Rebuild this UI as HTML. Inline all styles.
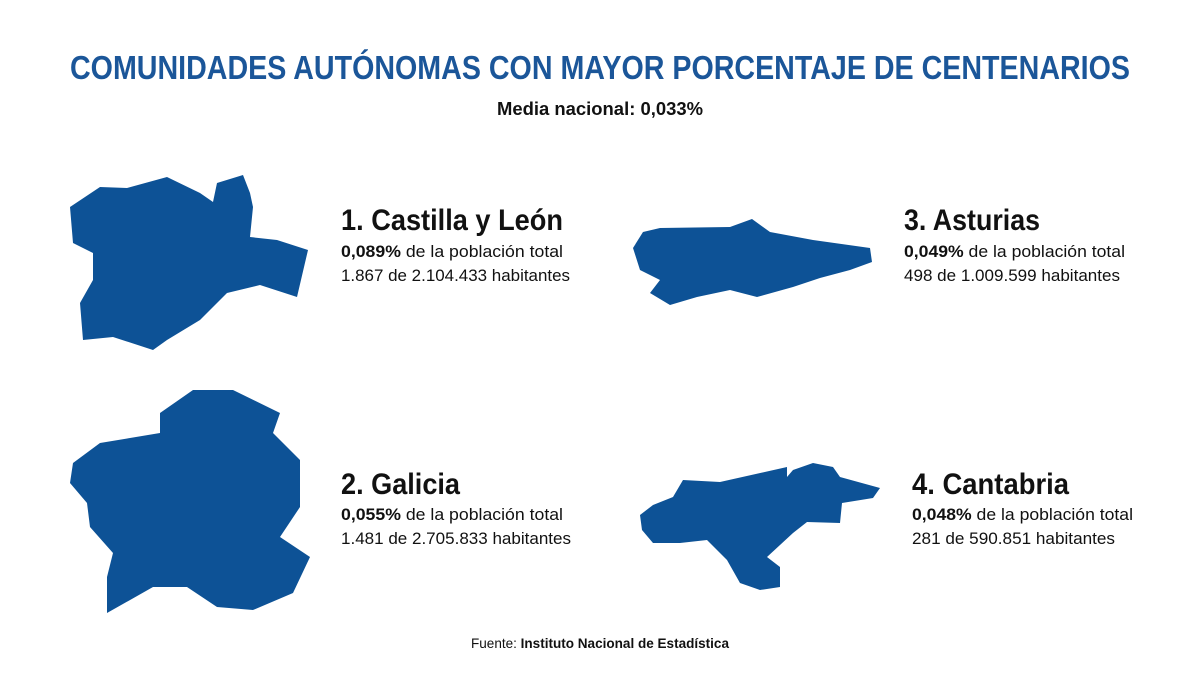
<!DOCTYPE html>
<html><head><meta charset="utf-8"><style>
html,body{margin:0;padding:0;background:#fff;}
svg{display:block;font-family:"Liberation Sans",sans-serif;}
</style></head><body>
<svg width="1200" height="675" viewBox="0 0 1200 675">
<text x="600" y="79" text-anchor="middle" font-size="33" font-weight="bold" fill="#1b5699" textLength="1060" lengthAdjust="spacingAndGlyphs">COMUNIDADES AUTÓNOMAS CON MAYOR PORCENTAJE DE CENTENARIOS</text>
<text x="600" y="115" text-anchor="middle" font-size="18" font-weight="bold" fill="#111" textLength="206" lengthAdjust="spacingAndGlyphs">Media nacional: 0,033%</text>

<g fill="#0d5296">
<polygon points="70,207 100,187 127,188 167,177 200,193 213,202 217,183 243,175 250,193 253,207 250,237 277,240 308,250 297,297 260,285 227,293 200,320 167,340 153,350 113,337 83,340 80,303 93,280 93,253 73,243"/>
<polygon points="160,413 193,390 233,390 280,413 273,433 300,460 300,507 280,537 310,557 293,593 253,610 217,607 187,587 153,587 107,613 107,577 113,553 90,527 87,503 70,483 73,463 100,443 160,433"/>
<polygon points="633,248 643,232 660,228 730,227 752,219 770,232 813,240 870,248 872,262 850,270 820,278 793,287 757,297 730,290 697,297 670,305 650,293 660,280 640,270"/>
<polygon points="640,515 653,505 673,497 683,480 720,482 787,467 787,477 793,470 813,463 833,467 840,477 880,488 873,498 842,503 840,523 807,522 793,533 767,557 780,567 780,587 760,590 740,583 727,560 707,540 680,543 653,543 642,530"/>
</g>

<g fill="#111">
<g>
<text x="341" y="230" font-size="30" font-weight="bold" textLength="222" lengthAdjust="spacingAndGlyphs">1. Castilla y León</text>
<text x="341" y="257" font-size="17" textLength="222" lengthAdjust="spacingAndGlyphs"><tspan font-weight="bold">0,089%</tspan> de la población total</text>
<text x="341" y="281" font-size="17" textLength="229" lengthAdjust="spacingAndGlyphs">1.867 de 2.104.433 habitantes</text>
</g>
<g>
<text x="904" y="230" font-size="30" font-weight="bold" textLength="136" lengthAdjust="spacingAndGlyphs">3. Asturias</text>
<text x="904" y="257" font-size="17" textLength="221" lengthAdjust="spacingAndGlyphs"><tspan font-weight="bold">0,049%</tspan> de la población total</text>
<text x="904" y="281" font-size="17" textLength="216" lengthAdjust="spacingAndGlyphs">498 de 1.009.599 habitantes</text>
</g>
<g>
<text x="341" y="494" font-size="30" font-weight="bold" textLength="119" lengthAdjust="spacingAndGlyphs">2. Galicia</text>
<text x="341" y="520" font-size="17" textLength="222" lengthAdjust="spacingAndGlyphs"><tspan font-weight="bold">0,055%</tspan> de la población total</text>
<text x="341" y="544" font-size="17" textLength="230" lengthAdjust="spacingAndGlyphs">1.481 de 2.705.833 habitantes</text>
</g>
<g>
<text x="912" y="494" font-size="30" font-weight="bold" textLength="157" lengthAdjust="spacingAndGlyphs">4. Cantabria</text>
<text x="912" y="520" font-size="17" textLength="221" lengthAdjust="spacingAndGlyphs"><tspan font-weight="bold">0,048%</tspan> de la población total</text>
<text x="912" y="544" font-size="17" textLength="203" lengthAdjust="spacingAndGlyphs">281 de 590.851 habitantes</text>
</g>
<text x="600" y="648" text-anchor="middle" font-size="14" textLength="258" lengthAdjust="spacingAndGlyphs">Fuente: <tspan font-weight="bold">Instituto Nacional de Estadística</tspan></text>
</g>
</svg>
</body></html>
